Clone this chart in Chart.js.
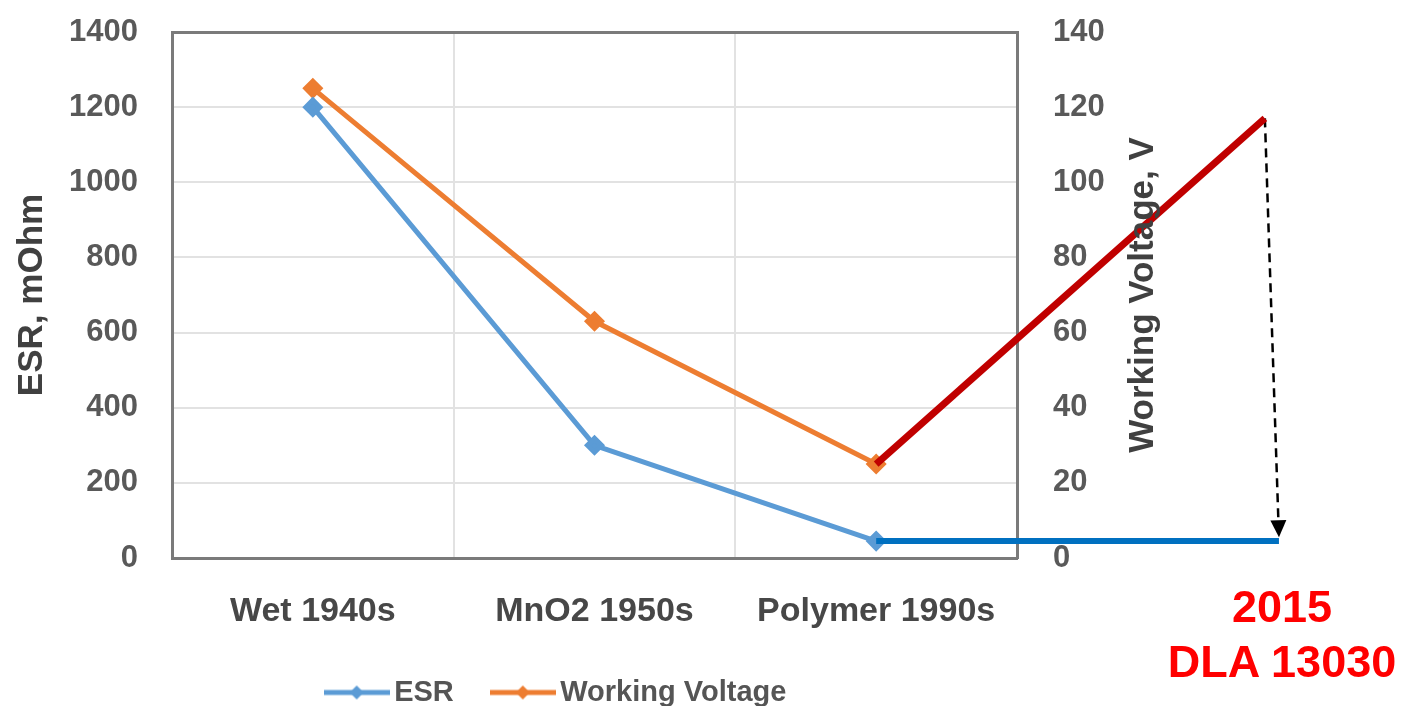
<!DOCTYPE html>
<html>
<head>
<meta charset="utf-8">
<title>ESR vs Working Voltage</title>
<script src="https://cdn.jsdelivr.net/npm/chart.js@4.4.1/dist/chart.umd.min.js"></script>
<style>
  html, body { margin: 0; padding: 0; background: #fff; }
  #wrap { position: relative; width: 1406px; height: 706px; overflow: hidden; }
  #note {
    position: absolute; left: 1132px; top: 579px; width: 300px;
    text-align: center; color: #ff0000;
    font: bold 45px "Liberation Sans", Arial, sans-serif; line-height: 55px;
  }
</style>
</head>
<body>
<div id="wrap">
  <canvas id="chart" width="1406" height="706"></canvas>
  <div id="note">2015<br>DLA 13030</div>
</div>
<script>
// data
const categories = ["Wet 1940s", "MnO2 1950s", "Polymer 1990s"];
const esrValues = [1200, 300, 45];        // mOhm, left axis
const voltageValues = [125, 63, 25];      // V, right axis
const esrTicks = { min: 0, max: 1400, step: 200 };
const voltageTicks = { min: 0, max: 140, step: 20 };

// 2015 DLA 13030 annotation (x is a category position past the last one)
const dlaX = 3.38;
const dlaVoltage = 117;
const dlaEsr = 45;
const arrowTipX = 3.43;
const arrowTipVoltage = 5.5;

const FONT = '"Liberation Sans", Arial, sans-serif';
const GRID = "#e2e2e2";
const FRAME = "#7a7a7a";

function legendIcon(color) {
  const c = document.createElement("canvas");
  c.width = 66; c.height = 20;
  const g = c.getContext("2d");
  g.strokeStyle = color; g.lineWidth = 5;
  g.beginPath(); g.moveTo(0, 10); g.lineTo(66, 10); g.stroke();
  g.fillStyle = color;
  g.beginPath(); g.moveTo(33, 3); g.lineTo(40, 10); g.lineTo(33, 17); g.lineTo(26, 10); g.closePath(); g.fill();
  return c;
}

const toPoints = (vals) => vals.map((v, i) => ({ x: i, y: v }));
const last = categories.length - 1;

// right axis title reads bottom-to-top, so it is drawn here
const rightTitle = {
  id: "rightTitle",
  afterDraw(chart) {
    const { ctx, chartArea, scales } = chart;
    ctx.save();
    ctx.translate(scales.y1.right + 23, (chartArea.top + chartArea.bottom) / 2);
    ctx.rotate(-Math.PI / 2);
    ctx.font = "bold 35px " + FONT;
    ctx.fillStyle = "#404040";
    ctx.textAlign = "center";
    ctx.textBaseline = "middle";
    ctx.fillText("Working Voltage, V", 0, 0);
    ctx.restore();
  }
};

// arrowhead at the end of the dashed line (points outside the chart area are not drawn by Chart.js)
const arrowHead = {
  id: "arrowHead",
  afterDatasetsDraw(chart) {
    const meta = chart.getDatasetMeta(4);
    const [a, b] = meta.data;
    const ang = Math.atan2(b.y - a.y, b.x - a.x);
    const { ctx } = chart;
    ctx.save();
    ctx.translate(b.x, b.y);
    ctx.rotate(ang);
    ctx.fillStyle = "#000";
    ctx.beginPath();
    ctx.moveTo(0, 0);
    ctx.lineTo(-17, -8);
    ctx.lineTo(-17, 8);
    ctx.closePath();
    ctx.fill();
    ctx.restore();
  }
};

const plain = (v) => String(v);
// drop the tick-padding that Chart.js adds above/below the value axes
const fixY = (width) => (s) => { s.width = width; s.paddingTop = 0; s.paddingBottom = 0; };

new Chart(document.getElementById("chart"), {
  type: "line",
  data: {
    labels: categories,
    datasets: [
      {
        label: "ESR",
        data: toPoints(esrValues),
        xAxisID: "xd", yAxisID: "y",
        borderColor: "#5b9bd5", backgroundColor: "#5b9bd5",
        borderWidth: 5, pointStyle: "rectRot", pointRadius: 7,
        order: 1,
      },
      {
        label: "Working Voltage",
        data: toPoints(voltageValues),
        xAxisID: "xd", yAxisID: "y1",
        borderColor: "#ed7d31", backgroundColor: "#ed7d31",
        borderWidth: 5, pointStyle: "rectRot", pointRadius: 7,
        order: 2,
      },
      {
        label: "2015 voltage",
        data: [{ x: last, y: voltageValues[last] }, { x: dlaX, y: dlaVoltage }],
        xAxisID: "xd", yAxisID: "y1",
        borderColor: "#c00000", borderWidth: 7, pointRadius: 0,
        clip: false, order: 0,
      },
      {
        label: "2015 ESR",
        data: [{ x: last, y: esrValues[last] }, { x: arrowTipX, y: dlaEsr }],
        xAxisID: "xd", yAxisID: "y",
        borderColor: "#0070c0", borderWidth: 6, pointRadius: 0,
        clip: false, order: 0,
      },
      {
        label: "arrow",
        data: [{ x: dlaX, y: dlaVoltage }, { x: arrowTipX, y: arrowTipVoltage }],
        xAxisID: "xd", yAxisID: "y1",
        borderColor: "#000",
        borderWidth: 2.5, borderDash: [9, 6],
        pointRadius: 0,
        clip: false, order: 0,
      },
    ],
  },
  options: {
    responsive: false,
    animation: false,
    layout: { padding: { top: 32, left: 0, right: 286, bottom: -11 } },
    plugins: {
      tooltip: { enabled: false },
      legend: {
        position: "bottom",
        labels: {
          usePointStyle: true,
          pointStyleWidth: 46,
          padding: 46,
          color: "#555",
          font: { family: FONT, size: 29, weight: "bold" },
          generateLabels(chart) {
            const items = Chart.defaults.plugins.legend.labels.generateLabels(chart);
            return items
              .filter((it) => it.datasetIndex < 2)
              .map((it) => ({ ...it, pointStyle: legendIcon(chart.data.datasets[it.datasetIndex].borderColor) }));
          },
        },
      },
    },
    scales: {
      x: {
        type: "category",
        position: "bottom",
        offset: true,
        grid: { offset: true, color: GRID, lineWidth: 2, drawTicks: false },
        border: { display: true, color: FRAME, width: 3 },
        ticks: { padding: 33, maxRotation: 0, color: "#474747", font: { family: FONT, size: 34, weight: "bold" } },
        afterFit(s) { s.height = 74; },
      },
      xd: {
        type: "linear",
        position: "top",
        min: -0.5,
        max: categories.length - 0.5,
        ticks: { display: false },
        grid: { display: false, drawTicks: false },
        border: { display: true, color: FRAME, width: 3 },
        afterFit(s) { s.height = 0; },
      },
      y: {
        position: "left",
        min: esrTicks.min, max: esrTicks.max,
        ticks: { stepSize: esrTicks.step, padding: 34, callback: plain, color: "#595959", font: { family: FONT, size: 31, weight: "bold" } },
        grid: { color: GRID, lineWidth: 2, drawTicks: false },
        border: { display: true, color: FRAME, width: 3 },
        title: {
          display: true, text: "ESR, mOhm", color: "#404040",
          font: { family: FONT, size: 35, weight: "bold" },
          padding: { top: 11, bottom: 0 },
        },
        afterFit: fixY(172),
      },
      y1: {
        position: "right",
        min: voltageTicks.min, max: voltageTicks.max,
        ticks: { stepSize: voltageTicks.step, padding: 36, callback: plain, color: "#595959", font: { family: FONT, size: 31, weight: "bold" } },
        grid: { display: false, drawTicks: false },
        border: { display: true, color: FRAME, width: 3 },
        afterFit: fixY(103),
      },
    },
  },
  plugins: [rightTitle, arrowHead],
});
</script>
</body>
</html>
